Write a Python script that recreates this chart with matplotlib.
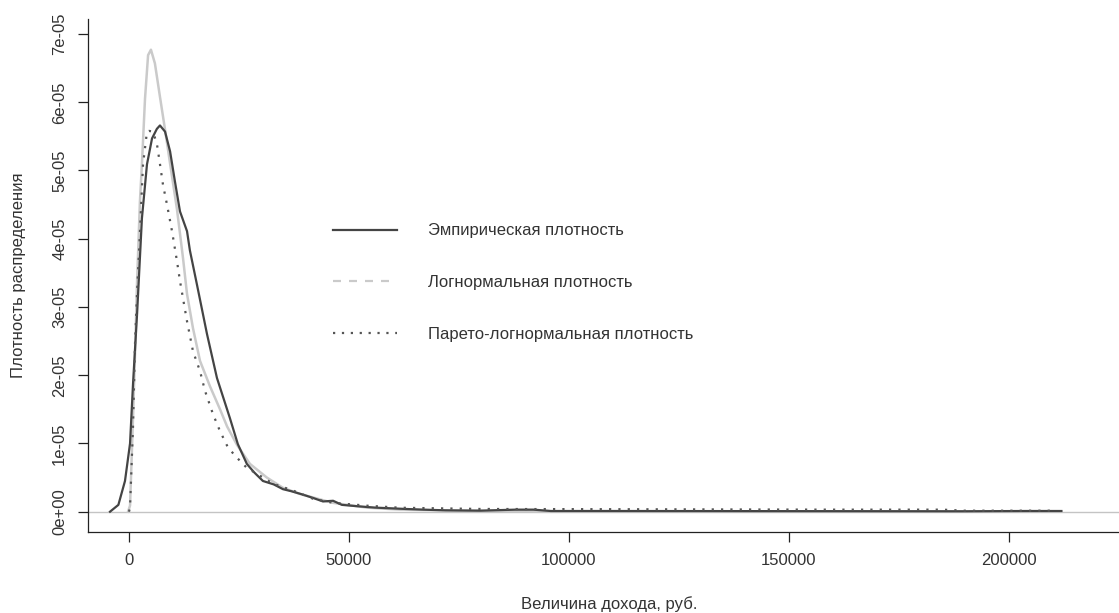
import matplotlib
matplotlib.use("Agg")
from matplotlib import pyplot as plt
from matplotlib.lines import Line2D

plt.rcParams['font.family'] = ['Liberation Sans', 'DejaVu Sans']

# values, density in units of 1e-5
emp_x = [-4200, -2300, -800, 350, 1050, 1950, 3050, 4200, 5350, 6450,
         7150, 8300, 9450, 10550, 11700, 13300, 13950, 15550, 17850, 20100,
         23050, 24850, 26900, 28500, 30550, 33000, 35100, 37000, 39650, 42000,
         44200, 46500, 48500, 52000, 56000, 59450, 63000, 66950, 72000, 80000,
         88000, 92000, 96000, 110000, 150000, 190000, 204000, 212000]
emp_y = [0, 0.1, 0.45, 1.0, 1.9, 2.9, 4.3, 5.09, 5.47, 5.61,
         5.66, 5.57, 5.28, 4.84, 4.40, 4.11, 3.83, 3.33, 2.60, 1.96,
         1.37, 0.99, 0.70, 0.58, 0.45, 0.40, 0.33, 0.30, 0.25, 0.20,
         0.15, 0.16, 0.10, 0.08, 0.06, 0.05, 0.04, 0.03, 0.02, 0.015,
         0.03, 0.03, 0.01, 0.01, 0.008, 0.006, 0.01, 0.01]

logn_x = [-100, 350, 1000, 1500, 1950, 2600, 3050, 3750, 4450, 5100,
          6000, 7150, 8300, 9450, 11000, 12400, 13300, 14650, 16250, 18500,
          20800, 22400, 24650, 27600, 31450, 35100, 38950, 46450, 54150, 61650,
          75000, 100000, 150000, 212000]
logn_y = [0, 0.09, 1.33, 2.35, 3.38, 4.55, 5.09, 6.05, 6.69, 6.77,
          6.57, 6.08, 5.60, 5.10, 4.44, 3.71, 3.19, 2.69, 2.21, 1.84,
          1.50, 1.25, 0.98, 0.70, 0.50, 0.35, 0.26, 0.13, 0.06, 0.03,
          0.015, 0.006, 0.002, 0.001]

pln_x = [110, 340, 1020, 1480, 1930, 2610, 3300, 4200, 4660, 5570,
         6480, 7160, 7840, 8750, 9890, 11020, 11700, 13300, 14660, 16250,
         17390, 19200, 20800, 22610, 24660, 26930, 29200, 32840, 37390, 41930,
         46480, 54200, 61700, 80000, 120000, 160000, 185000, 190000, 211000]
pln_y = [0, 0.06, 1.23, 2.46, 3.19, 4.11, 5.09, 5.57, 5.58, 5.57,
         5.38, 5.09, 4.79, 4.50, 4.11, 3.67, 3.38, 2.79, 2.35, 2.06,
         1.77, 1.43, 1.18, 0.94, 0.79, 0.64, 0.555, 0.41, 0.31, 0.19,
         0.13, 0.088, 0.058, 0.04, 0.035, 0.03, 0.03, 0.015, 0.015]

x_ticks = [0, 50000, 100000, 150000, 200000]
y_ticks = [0, 1, 2, 3, 4, 5, 6, 7]
y_tick_labels = ["0e+00", "1e-05", "2e-05", "3e-05", "4e-05", "5e-05", "6e-05", "7e-05"]
labels = ["Эмпирическая плотность", "Логнормальная плотность",
          "Парето-логнормальная плотность"]

fig = plt.figure(figsize=(11.19, 6.13), dpi=100)
ax = fig.add_axes([88.3 / 1119, 1 - 532.3 / 613, 1 - 88.3 / 1119, (532.3 - 19) / 613])

ax.axhline(0, color='#c4c4c4', lw=1, zorder=1)
ax.plot(emp_x, [v * 1e-5 for v in emp_y], color='#444444', lw=1.6, zorder=3)
ax.plot(logn_x, [v * 1e-5 for v in logn_y], color='#cacaca', lw=1.8, zorder=2)
ax.plot(pln_x, [v * 1e-5 for v in pln_y], color='#555555', lw=1.6,
        linestyle=(0, (1, 3.2)), zorder=4)

ax.set_xlim(-9136, 225100)
ax.set_ylim(-0.302e-5, 7.22e-5)

ax.set_xticks(x_ticks)
ax.set_xticklabels([str(t) for t in x_ticks])
ax.set_yticks([t * 1e-5 for t in y_ticks])
ax.set_yticklabels(y_tick_labels, rotation=90, va='center')
ax.tick_params(axis='both', length=7.2, width=0.9, color='#222222',
               labelsize=12, labelcolor='#333333')
ax.tick_params(axis='x', pad=8)
ax.tick_params(axis='y', pad=8)

for side in ['top', 'right']:
    ax.spines[side].set_visible(False)
for side in ['left', 'bottom']:
    ax.spines[side].set_linewidth(0.9)
    ax.spines[side].set_color('#222222')

ax.set_xlabel("Величина дохода, руб.", fontsize=12, color='#333333')
ax.set_ylabel("Плотность распределения", fontsize=12, color='#333333')
ax.xaxis.set_label_coords((609 - 88.3) / 1030.7, (532.3 - 596) / 513.3)
ax.yaxis.set_label_coords((26 - 88.3) / 1030.7, 0.5)

handles = [Line2D([], [], color='#444444', lw=1.6),
           Line2D([], [], color='#cacaca', lw=1.6, linestyle=(0, (3.6, 3.6))),
           Line2D([], [], color='#555555', lw=1.6, linestyle=(0, (1, 3)))]
ax.legend(handles, labels, loc='center left', frameon=False, fontsize=12,
          bbox_to_anchor=(333 / 1119, 1 - 282.5 / 613), bbox_transform=fig.transFigure,
          borderpad=0, borderaxespad=0, handlelength=3.84, handletextpad=1.86,
          labelspacing=2.2, labelcolor='#333333')

plt.savefig("out.png", dpi=100)
